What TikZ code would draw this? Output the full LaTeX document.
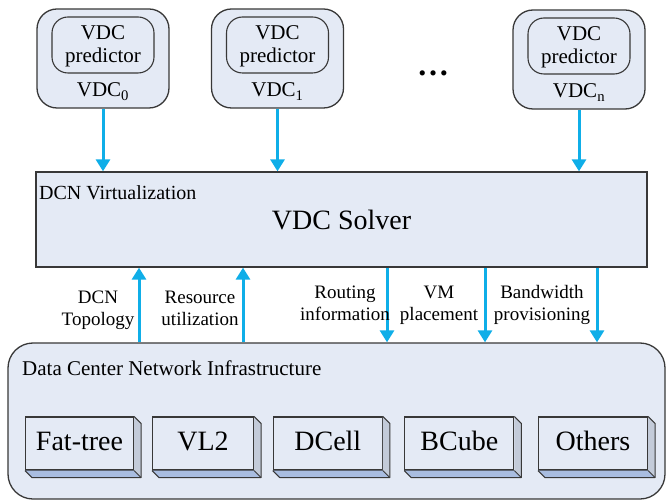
\documentclass[tikz,border=0pt]{standalone}
\usepackage{fontspec}
\setmainfont{Liberation Serif}
\newfontfamily\diagserif{Liberation Serif}
\usetikzlibrary{arrows.meta}

\definecolor{boxfill}{HTML}{E4EAF5}
\definecolor{edgegray}{HTML}{383838}
\definecolor{flowblue}{HTML}{0FAEE8}
\definecolor{sideface}{HTML}{C3CBD9}
\definecolor{bottomface}{HTML}{A9BDE0}

\newcommand{\setpx}[1]{\diagserif\fontsize{#1}{#1}\selectfont}

\begin{document}
\begin{tikzpicture}[x=1pt,y=-1pt,
  vdcouter/.style={draw=edgegray, line width=1.3pt, fill=boxfill, rounded corners=20pt,
    minimum width=132pt, minimum height=99pt, inner sep=0pt},
  vdcinner/.style={draw=edgegray, line width=1.1pt, rounded corners=16pt,
    minimum width=102pt, minimum height=56pt, inner sep=0pt},
  boxtext/.style={font=\setpx{21}, anchor=base, inner sep=0pt},
  flowlabel/.style={font=\setpx{19}, anchor=base, inner sep=0pt},
  flowarrow/.style={draw=flowblue, line width=3pt, -{Triangle[width=14pt,length=12pt]}},
  layerbox/.style={draw=edgegray, line width=1.3pt, fill=boxfill, inner sep=0pt},
  bevelbox/.style={draw=edgegray, line width=1.1pt, fill=boxfill, minimum height=53pt,
    inner sep=0pt, font=\setpx{28}, text height=19.5pt, text depth=5.5pt}
]
\useasboundingbox (0,0) rectangle (668,502);

% ---- per-VDC predictor boxes ----
\node[vdcouter] (vdc0) at (103,58.5) {};
\node[vdcinner] (pred0) at (103,45) {};
\node[boxtext] (pred0a) at (103,40) {VDC};
\node[boxtext] (pred0b) at (103,63) {predictor};
\node[boxtext] (name0) at (103,97) {VDC\textsubscript{0}};

\node[vdcouter] (vdc1) at (277.5,58.5) {};
\node[vdcinner] (pred1) at (277.5,45) {};
\node[boxtext] (pred1a) at (277.5,40) {VDC};
\node[boxtext] (pred1b) at (277.5,63) {predictor};
\node[boxtext] (name1) at (277.5,97) {VDC\textsubscript{1}};

\node[vdcouter] (vdcn) at (579,59.5) {};
\node[vdcinner] (predn) at (579,46) {};
\node[boxtext] (predna) at (579,41) {VDC};
\node[boxtext] (prednb) at (579,64) {predictor};
\node[boxtext] (namen) at (579,98) {VDC\textsubscript{n}};

\node[font=\setpx{32}\bfseries, inner sep=0pt] (dots) at (433,73) {…};

% ---- solver layer ----
\node[layerbox, minimum width=611pt, minimum height=95pt, font=\setpx{28}] (solver) at (341.5,219.5) {VDC Solver};
\node[font=\setpx{20}, anchor=base west, inner sep=0pt] (virt) at (39,200) {DCN Virtualization};

% ---- infrastructure layer ----
\node[layerbox, rounded corners=25pt, minimum width=657pt, minimum height=156pt] (infra) at (336.5,421) {};
\node[font=\setpx{21}, anchor=base west, inner sep=0pt] (infratitle) at (22,375) {Data Center Network Infrastructure};

\node[bevelbox, minimum width=108pt] (fattree) at (79.5,443.5) {Fat-tree};
\node[bevelbox, minimum width=101pt] (vltwo) at (203,443.5) {VL2};
\node[bevelbox, minimum width=109pt] (dcell) at (327.8,443.5) {DCell};
\node[bevelbox, minimum width=109pt] (bcube) at (459.3,443.5) {BCube};
\node[bevelbox, minimum width=109pt] (others) at (593,443.5) {Others};

\foreach \b in {fattree,vltwo,dcell,bcube,others}{
  \fill[sideface] (\b.north east) -- ++(7,7) -- ([shift={(7,7)}]\b.south east) -- (\b.south east) -- cycle;
  \fill[bottomface] (\b.south west) -- ++(7,7) -- ([shift={(7,7)}]\b.south east) -- (\b.south east) -- cycle;
  \draw[edgegray, line width=1.1pt, line join=round] (\b.north east) -- ++(7,7) -- ([shift={(7,7)}]\b.south east)
    -- ([shift={(7,7)}]\b.south west) -- (\b.south west);
  \draw[edgegray, line width=0.8pt] (\b.south east) -- ++(7,7);
}

% ---- flows from the predictors into the solver ----
\draw[flowarrow] (vdc0.south) -- (vdc0.south |- solver.north);
\draw[flowarrow] (vdc1.south) -- (vdc1.south |- solver.north);
\draw[flowarrow] (vdcn.south) -- (vdcn.south |- solver.north);

% ---- flows between solver and infrastructure ----
\coordinate (upA) at (139,300);
\coordinate (upB) at (243,300);
\coordinate (dnA) at (387,300);
\coordinate (dnB) at (485,300);
\coordinate (dnC) at (597,300);

\draw[flowarrow] (upA |- infra.north) -- (upA |- solver.south);
\draw[flowarrow] (upB |- infra.north) -- (upB |- solver.south);
\draw[flowarrow] (dnA |- solver.south) -- (dnA |- infra.north);
\draw[flowarrow] (dnB |- solver.south) -- (dnB |- infra.north);
\draw[flowarrow] (dnC |- solver.south) -- (dnC |- infra.north);

\node[flowlabel] (topoA) at (98,303) {DCN};
\node[flowlabel] (topoB) at (98,325) {Topology};
\node[flowlabel] (utilA) at (200,303) {Resource};
\node[flowlabel] (utilB) at (200,325) {utilization};
\node[flowlabel] (routA) at (345,298) {Routing};
\node[flowlabel] (routB) at (345,320) {information};
\node[flowlabel] (vmA) at (439,298) {VM};
\node[flowlabel] (vmB) at (439,320) {placement};
\node[flowlabel] (bwA) at (542,298) {Bandwidth};
\node[flowlabel] (bwB) at (542,320) {provisioning};
\end{tikzpicture}
\end{document}
